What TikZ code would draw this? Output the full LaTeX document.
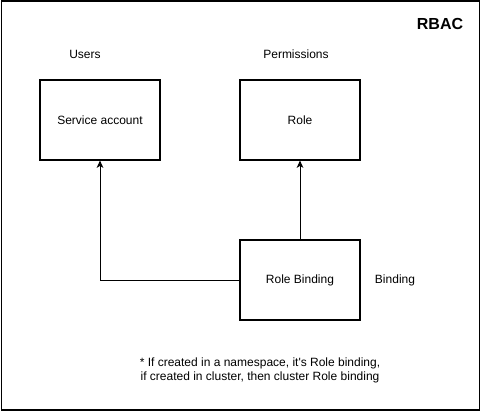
\documentclass[tikz,border=0pt]{standalone}
\usepackage{fontspec}
\setmainfont{Liberation Sans}[Ligatures=TeXOff]
\usetikzlibrary{arrows.meta}
\begin{document}
\begin{tikzpicture}[x=0.75pt,y=-0.75pt,
  box/.style={draw=black,line width=0.8pt,minimum width=90pt,minimum height=60pt,inner sep=0pt,font=\fontsize{9}{11}\selectfont},
  lbl/.style={font=\fontsize{9}{11}\selectfont,inner sep=0pt},
  conn/.style={line width=0.75pt,-{Stealth[length=5.5pt,width=5pt,inset=1.5pt]}}]
\useasboundingbox (0,0) rectangle (481,411);
\node[draw=black,line width=1.2pt,minimum width=358.5pt,minimum height=306.75pt,inner sep=0pt] (frame) at (240.5,205.5) {};
\node[font=\bfseries\fontsize{12}{14}\selectfont,inner sep=0pt] (rbac) at (440,24) {RBAC};
\node[lbl] (users) at (85,54) {Users};
\node[lbl] (perm) at (296,54) {Permissions};
\node[box] (sa) at (100,120) {Service account};
\node[box] (role) at (300,120) {Role};
\node[box] (rb) at (300,280) {Role Binding};
\node[lbl] (binding) at (395,280) {Binding};
\node[lbl,align=center] (note) at (260,370.5) {* If created in a namespace, it's Role binding,\\ if created in cluster, then cluster Role binding};
\draw[conn] (rb.west) -| (sa.south);
\draw[conn] (rb.north) -- (role.south);
\end{tikzpicture}
\end{document}
